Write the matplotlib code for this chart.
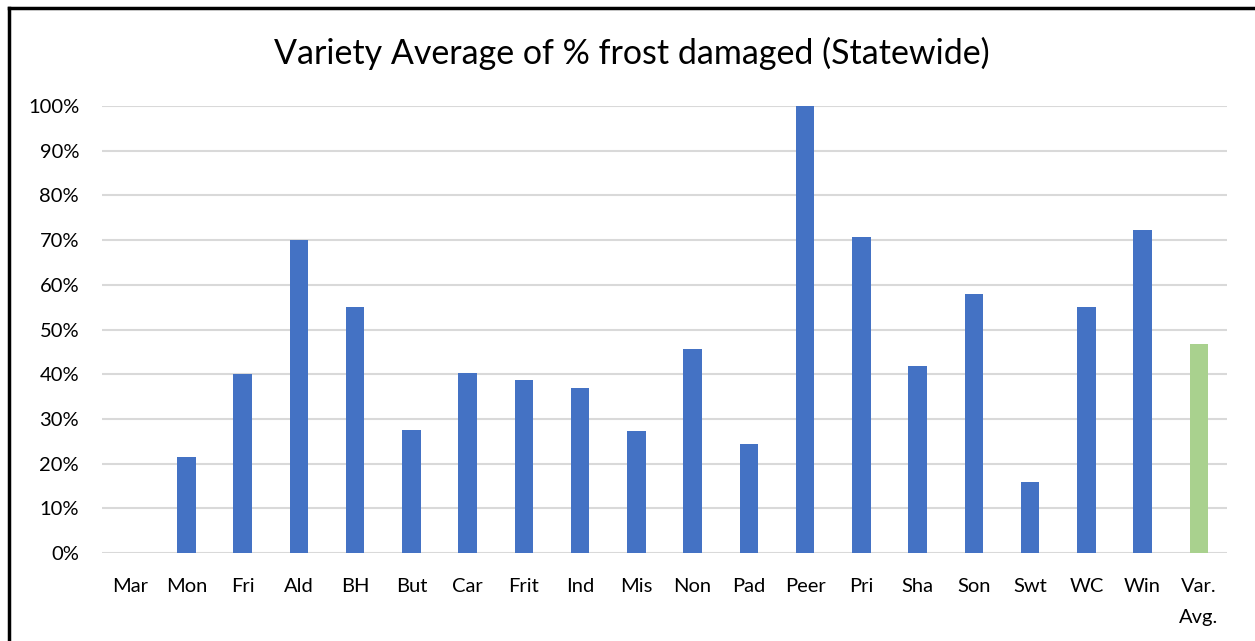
import matplotlib.pyplot as plt
from matplotlib.ticker import PercentFormatter
import numpy as np

# varieties and their average frost damage (%)
varieties = ['Mar', 'Mon', 'Fri', 'Ald', 'BH', 'But', 'Car', 'Frit', 'Ind', 'Mis',
             'Non', 'Pad', 'Peer', 'Pri', 'Sha', 'Son', 'Swt', 'WC', 'Win', 'Var.\nAvg.']
damage = [0, 21.5, 40.0, 70.1, 55.0, 27.5, 40.2, 38.7, 36.9, 27.2,
          45.7, 24.3, 100.0, 70.7, 41.9, 57.9, 15.9, 55.0, 72.2, 46.8]
y_ticks = [0, 10, 20, 30, 40, 50, 60, 70, 80, 90, 100]

plt.rcParams['font.family'] = ['Lato', 'DejaVu Sans']

fig = plt.figure(figsize=(12.55, 6.41), dpi=100)
ax = fig.add_axes([0.0813, 0.1373, 0.8964, 0.6973])

colors = ['#4472C4'] * (len(varieties) - 1) + ['#A9D18E']
x = np.arange(len(varieties))
ax.bar(x, damage, width=0.33, color=colors, zorder=3)

ax.set_xlim(-0.5, len(varieties) - 0.5)
ax.set_ylim(0, 100)
ax.set_yticks(y_ticks)
ax.yaxis.set_major_formatter(PercentFormatter(decimals=0))
ax.set_xticks(x)
ax.set_xticklabels(varieties, fontsize=14.5, va='top', linespacing=2.0)
ax.tick_params(axis='y', labelsize=14.5, length=0, pad=16.5)
ax.tick_params(axis='x', length=0, pad=18)
ax.grid(axis='y', color='#d9d9d9', linewidth=1.5, zorder=0)
for s in ax.spines.values():
    s.set_visible(False)

fig.text(0.5035, 0.916, 'Variety Average of % frost damaged (Statewide)',
         ha='center', va='center', fontsize=24.5)

# frame at top and left like the source screenshot
fig.add_artist(plt.Line2D([0.0068, 1.0], [0.9875, 0.9875], color='black', linewidth=2.5, transform=fig.transFigure))
fig.add_artist(plt.Line2D([0.0068, 0.0068], [0.0, 0.9875], color='black', linewidth=2.5, transform=fig.transFigure))

fig.savefig('out.png', dpi=100)
